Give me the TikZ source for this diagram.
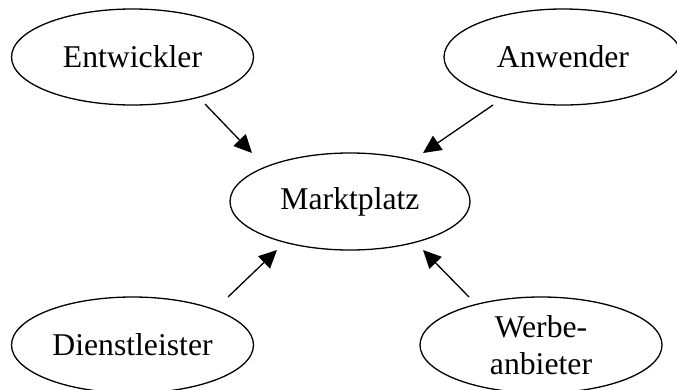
\documentclass[tikz,border=0pt]{standalone}
\usepackage{fontspec}
\setmainfont{Liberation Serif}
\usetikzlibrary{shapes.geometric,arrows.meta,calc}
\tikzset{
  actor/.style={ellipse,draw,line width=1.3pt,minimum width=242pt,minimum height=96pt,inner sep=0pt,
    font=\fontsize{31.7}{37}\selectfont,align=center},
  arr/.style={line width=1.3pt,-{Triangle[length=18pt,width=17pt]}}
}
\begin{document}
\begin{tikzpicture}[x=1pt,y=-1pt]
\useasboundingbox (0,0) rectangle (677,389);
\clip (0,0) rectangle (677,389);
\node[actor] (E) at (132.5,57) {Entwickler};
\node[actor,minimum width=238pt] (A) at (563,57) {Anwender};
\node[actor,minimum width=240pt,minimum height=97pt] (M) at (350,201.5) {Marktplatz};
\node[actor] (D) at (132.5,345) {Dienstleister};
\node[actor] (W) at (541,345) {Werbe-\\anbieter};
\coordinate (e1) at ($(E.center)+(72.5,47)$);
\coordinate (e2) at ($(M.center)+(-98,-48.5)$);
\coordinate (a1) at ($(A.center)+(-70,48)$);
\coordinate (a2) at ($(M.center)+(73,-48.5)$);
\coordinate (d1) at ($(D.center)+(95.5,-48)$);
\coordinate (d2) at ($(M.center)+(-73,48.5)$);
\coordinate (w1) at ($(W.center)+(-72,-48)$);
\coordinate (w2) at ($(M.center)+(73,48.5)$);
\draw[arr] (e1) -- (e2);
\draw[arr] (a1) -- (a2);
\draw[arr] (d1) -- (d2);
\draw[arr] (w1) -- (w2);
\end{tikzpicture}
\end{document}
